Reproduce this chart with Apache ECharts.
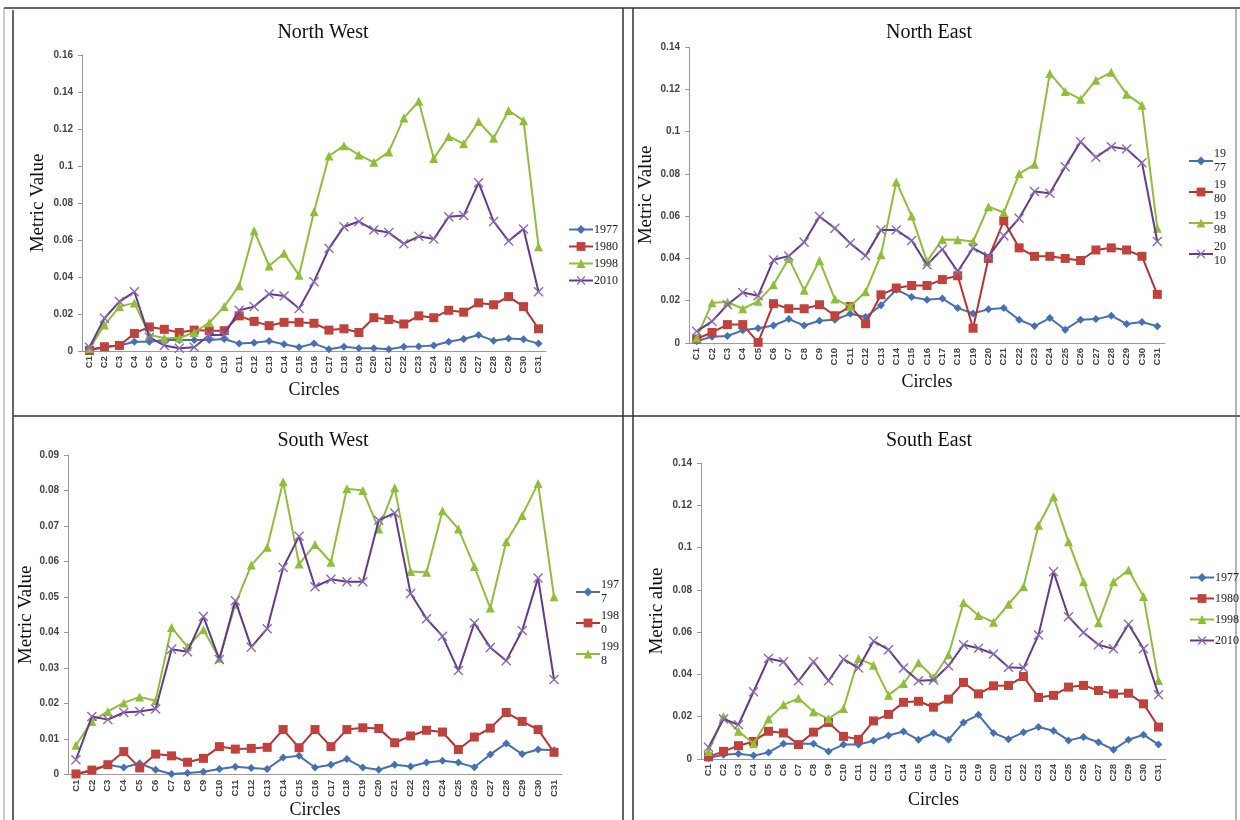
<!DOCTYPE html>
<html>
<head>
<meta charset="utf-8">
<title>Metric Value by Circle</title>
<script src="https://cdn.jsdelivr.net/npm/echarts@6/dist/echarts.min.js"></script>
<style>
  html, body { margin: 0; padding: 0; background: #fff; }
  #chart { width: 1240px; height: 820px; }
</style>
</head>
<body>
<div id="chart"></div>
<script>
(() => {
  'use strict';

  // -------- Data --------
  const circles = ['C1', 'C2', 'C3', 'C4', 'C5', 'C6', 'C7', 'C8', 'C9', 'C10', 'C11', 'C12', 'C13', 'C14', 'C15', 'C16',
    'C17', 'C18', 'C19', 'C20', 'C21', 'C22', 'C23', 'C24', 'C25', 'C26', 'C27', 'C28', 'C29', 'C30', 'C31'];
  const years = ['1977', '1980', '1998', '2010'];

  const nw1977 = [0.001, 0.002, 0.003, 0.005, 0.005, 0.006, 0.006, 0.006, 0.006, 0.0065, 0.004, 0.0045, 0.0054, 0.0036, 0.002, 0.004,
    0.001, 0.0023, 0.0015, 0.0015, 0.001, 0.0023, 0.0025, 0.003, 0.005, 0.0065, 0.0086, 0.0056, 0.0068, 0.0063, 0.004];
  const nw1980 = [0.0003, 0.0023, 0.003, 0.0095, 0.013, 0.0117, 0.010, 0.0113, 0.011, 0.011, 0.019, 0.016, 0.0137, 0.0155, 0.0155, 0.015,
    0.0113, 0.012, 0.010, 0.018, 0.017, 0.0146, 0.019, 0.018, 0.022, 0.021, 0.026, 0.025, 0.0294, 0.024, 0.012];
  const nw1998 = [0.0014, 0.014, 0.024, 0.026, 0.0087, 0.007, 0.007, 0.010, 0.0153, 0.024, 0.0353, 0.065, 0.046, 0.0528, 0.041, 0.0753,
    0.1054, 0.111, 0.106, 0.102, 0.1076, 0.126, 0.135, 0.104, 0.116, 0.112, 0.124, 0.115, 0.130, 0.1245, 0.0564];
  const nw2010 = [0.002, 0.0177, 0.0267, 0.032, 0.0074, 0.003, 0.0015, 0.002, 0.0087, 0.0087, 0.022, 0.024, 0.0308, 0.0297, 0.023, 0.0375,
    0.0555, 0.0672, 0.070, 0.0654, 0.064, 0.058, 0.062, 0.0605, 0.0726, 0.0732, 0.091, 0.070, 0.0595, 0.066, 0.032];

  const ne1977 = [0.0008, 0.003, 0.0033, 0.006, 0.007, 0.0083, 0.0113, 0.0083, 0.0105, 0.011, 0.0138, 0.0123, 0.0178, 0.0252, 0.0217, 0.0205,
    0.021, 0.0165, 0.014, 0.016, 0.0165, 0.011, 0.008, 0.0118, 0.0063, 0.011, 0.0113, 0.0129, 0.009, 0.0099, 0.0079];
  const ne1980 = [0.0019, 0.005, 0.0087, 0.0087, 0.0003, 0.0186, 0.0162, 0.0162, 0.0181, 0.0129, 0.0173, 0.0091, 0.0228, 0.026, 0.0272, 0.0272,
    0.030, 0.0318, 0.007, 0.040, 0.0578, 0.045, 0.041, 0.041, 0.040, 0.039, 0.044, 0.045, 0.044, 0.041, 0.023];
  const ne1998 = [0.0024, 0.019, 0.0194, 0.0162, 0.0197, 0.0275, 0.040, 0.025, 0.039, 0.0208, 0.0173, 0.0242, 0.0417, 0.0762, 0.0601, 0.0386,
    0.049, 0.0488, 0.048, 0.0645, 0.0617, 0.080, 0.0845, 0.1275, 0.119, 0.1153, 0.1243, 0.128, 0.1177, 0.1125, 0.0543];
  const ne2010 = [0.0055, 0.0102, 0.0181, 0.0239, 0.0223, 0.0393, 0.0412, 0.0477, 0.0598, 0.0543, 0.0472, 0.0413, 0.0535, 0.0535, 0.0485, 0.037,
    0.0444, 0.0338, 0.0449, 0.041, 0.0507, 0.059, 0.0716, 0.0708, 0.0834, 0.0952, 0.0878, 0.0928, 0.0917, 0.0853, 0.048];

  const sw1977 = [0.0002, 0.001, 0.0028, 0.002, 0.0032, 0.0014, 0.0002, 0.0005, 0.0008, 0.0016, 0.0022, 0.0019, 0.0016, 0.0048, 0.0053, 0.002,
    0.0028, 0.0044, 0.002, 0.0014, 0.0028, 0.0023, 0.0034, 0.0039, 0.0034, 0.0021, 0.0057, 0.0088, 0.0058, 0.0071, 0.0069];
  const sw1980 = [0.0002, 0.0013, 0.0028, 0.0065, 0.0019, 0.0058, 0.0053, 0.0035, 0.0046, 0.0079, 0.0072, 0.0074, 0.0077, 0.0127, 0.0076, 0.0127,
    0.0079, 0.0127, 0.0132, 0.013, 0.009, 0.0109, 0.0125, 0.012, 0.0071, 0.0106, 0.0131, 0.0175, 0.015, 0.0127, 0.0063];
  const sw1998 = [0.0083, 0.015, 0.0178, 0.0202, 0.0219, 0.0208, 0.0414, 0.036, 0.0408, 0.0328, 0.048, 0.059, 0.064, 0.0825, 0.0593, 0.0648,
    0.0598, 0.0805, 0.080, 0.0692, 0.0808, 0.0572, 0.057, 0.0743, 0.0692, 0.0586, 0.0469, 0.0656, 0.073, 0.082, 0.0501];
  const sw2010 = [0.0042, 0.0164, 0.0155, 0.0175, 0.0178, 0.0185, 0.0353, 0.0346, 0.0445, 0.0324, 0.049, 0.0359, 0.0411, 0.0583, 0.0671, 0.0529,
    0.055, 0.0543, 0.0543, 0.0716, 0.0737, 0.051, 0.0439, 0.039, 0.0293, 0.0427, 0.0358, 0.0321, 0.0406, 0.0554, 0.0268];

  const se1977 = [0.0005, 0.002, 0.0025, 0.0016, 0.0031, 0.0072, 0.0072, 0.0072, 0.0036, 0.0068, 0.0068, 0.0086, 0.0111, 0.013, 0.0091, 0.0123,
    0.0091, 0.0173, 0.0209, 0.0123, 0.0094, 0.0126, 0.0151, 0.0134, 0.0088, 0.0104, 0.0079, 0.0044, 0.0091, 0.0115, 0.0068];
  const se1980 = [0.001, 0.0036, 0.0063, 0.0083, 0.0131, 0.0123, 0.0068, 0.0127, 0.0173, 0.0107, 0.0093, 0.018, 0.0211, 0.0268, 0.0273, 0.0245,
    0.0283, 0.0362, 0.0308, 0.0346, 0.0348, 0.039, 0.0291, 0.0301, 0.034, 0.0348, 0.0324, 0.0308, 0.0311, 0.0261, 0.0151];
  const se1998 = [0.0036, 0.0201, 0.0131, 0.0072, 0.0189, 0.0256, 0.0287, 0.0224, 0.019, 0.0239, 0.0475, 0.0444, 0.0302, 0.0357, 0.0455, 0.0386,
    0.0493, 0.074, 0.0679, 0.0647, 0.0732, 0.0815, 0.1106, 0.124, 0.1027, 0.0838, 0.0645, 0.0838, 0.0894, 0.0768, 0.0371];
  const se2010 = [0.0055, 0.0189, 0.0162, 0.0318, 0.0475, 0.046, 0.037, 0.046, 0.037, 0.0472, 0.043, 0.0558, 0.0517, 0.043, 0.037, 0.0374,
    0.0441, 0.054, 0.0524, 0.0497, 0.0434, 0.043, 0.0587, 0.0886, 0.0673, 0.0598, 0.054, 0.0521, 0.0637, 0.0521, 0.0304];

  // -------- Styles --------
  const SERIF = '"Liberation Serif", "DejaVu Serif", serif';
  const SANS = '"Liberation Sans", Arial, sans-serif';
  const AXIS = '#9a9a9a';
  const CROSS = 'path://M0,1L1,0L5,4L9,0L10,1L6,5L10,9L9,10L5,6L1,10L0,9L4,5Z';
  const LOOK = {
    '1977': { color: '#4670b5', symbol: 'diamond', size: 8, fill: '#4670b5' },
    '1980': { color: '#b8332f', symbol: 'rect', size: 9, fill: '#c0423d' },
    '1998': { color: '#8fbf3a', symbol: 'triangle', size: 9, fill: '#8fbf3a' },
    '2010': { color: '#65398b', symbol: CROSS, size: 10, fill: '#8a6cb6' },
  };

  // one panel per region: grid box, axis settings, legend [left, top, gap]
  const panels = [
    { title: 'North West', cx: 318, ty: 18, grid: [82, 55, 464, 296], max: 0.16, step: 0.02, yName: 'Metric Value', yGap: 34, xGap: 30,
      data: [nw1977, nw1980, nw1998, nw2010], legend: years, leg: [563, 218, 4], split: 0 },
    { title: 'North East', cx: 924, ty: 18, grid: [689, 47, 476, 296], max: 0.14, step: 0.02, yName: 'Metric Value', yGap: 33, xGap: 30,
      data: [ne1977, ne1980, ne1998, ne2010], legend: years, leg: [1183, 142, 3], split: 2 },
    { title: 'South West', cx: 318, ty: 426, grid: [68, 455, 494, 325], max: 0.09, step: 0.01, yName: 'Metric Value', yGap: 32, xGap: 20,
      data: [sw1977, sw1980, sw1998, sw2010], legend: ['1977', '1980', '1998'], leg: [570, 573, 3], split: 3 },
    { title: 'South East', cx: 924, ty: 426, grid: [701, 463, 465, 296], max: 0.14, step: 0.02, yName: 'Metric alue', yGap: 34, xGap: 32,
      data: [se1977, se1980, se1998, se2010], legend: years, leg: [1184, 566, 8], split: 0 },
  ];

  const fmtTick = (v) => (v === 0 ? '0' : String(+v.toFixed(2)));

  // -------- Build option --------
  const option = {
    animation: false,
    backgroundColor: '#fff',
    title: [], legend: [], grid: [], xAxis: [], yAxis: [], series: [],
    graphic: [],
  };

  panels.forEach((p, i) => {
    option.title.push({
      text: p.title, left: p.cx, top: p.ty, textAlign: 'center',
      textStyle: { fontFamily: SERIF, fontSize: 20, fontWeight: 'normal', color: '#111' },
    });
    option.grid.push({ left: p.grid[0], top: p.grid[1], width: p.grid[2], height: p.grid[3], containLabel: false });
    option.xAxis.push({
      type: 'category', gridIndex: i, data: circles, boundaryGap: true,
      name: 'Circles', nameLocation: 'middle', nameGap: p.xGap,
      nameTextStyle: { fontFamily: SERIF, fontSize: 18, color: '#111', verticalAlign: 'top' },
      axisLine: { lineStyle: { color: AXIS, width: 1 } },
      axisTick: { alignWithLabel: false, length: 4, lineStyle: { color: AXIS } },
      axisLabel: { interval: 0, rotate: 90, margin: 5, fontFamily: SANS, fontSize: 9.5, fontWeight: 'bold', color: '#444' },
      splitLine: { show: false },
    });
    option.yAxis.push({
      type: 'value', gridIndex: i, min: 0, max: p.max, interval: p.step,
      name: p.yName, nameLocation: 'middle', nameGap: p.yGap,
      nameTextStyle: { fontFamily: SERIF, fontSize: 19, color: '#111' },
      axisLine: { show: true, lineStyle: { color: AXIS, width: 1 } },
      axisTick: { show: true, length: 4, lineStyle: { color: AXIS } },
      axisLabel: { fontFamily: SANS, fontSize: 10, fontWeight: 'bold', color: '#444', margin: 9, formatter: fmtTick },
      splitLine: { show: false },
    });
    years.forEach((y, k) => {
      const look = LOOK[y];
      option.series.push({
        name: y, type: 'line', xAxisIndex: i, yAxisIndex: i,
        data: p.data[k],
        symbol: look.symbol, symbolSize: look.size, showAllSymbol: true,
        lineStyle: { color: look.color, width: 2 },
        itemStyle: { color: look.fill },
        z: 2 + k,
      });
    });
    const split = p.split;
    option.legend.push({
      data: p.legend,
      orient: 'vertical', left: p.leg[0], top: p.leg[1], itemGap: p.leg[2],
      itemWidth: 24, itemHeight: 11,
      formatter: split ? (n) => n.slice(0, split) + '\n' + n.slice(split) : '{name}',
      textStyle: { fontFamily: SERIF, fontSize: 12, color: '#222', lineHeight: split ? 14 : 13, padding: [0, 0, 0, -4] },
      selectedMode: false,
    });
  });

  // -------- Panel frame lines --------
  const frame = (x1, y1, x2, y2, color, w) => ({
    type: 'line', silent: true,
    shape: { x1, y1, x2, y2 },
    style: { stroke: color, lineWidth: w },
  });
  option.graphic = [
    frame(4, 8, 4, 820, '#9a9a9a', 1),
    frame(4, 8, 1240, 8, '#333', 1.5),
    frame(13, 10, 13, 820, '#333', 1.5),
    frame(623, 8, 623, 820, '#333', 1.5),
    frame(633, 8, 633, 820, '#333', 1.5),
    frame(13, 416, 1240, 416, '#333', 1.5),
    frame(1236, 8, 1236, 820, '#666', 1),
  ];

  const chart = echarts.init(document.getElementById('chart'), null, { renderer: 'canvas' });
  chart.setOption(option);
})();
</script>
</body>
</html>
